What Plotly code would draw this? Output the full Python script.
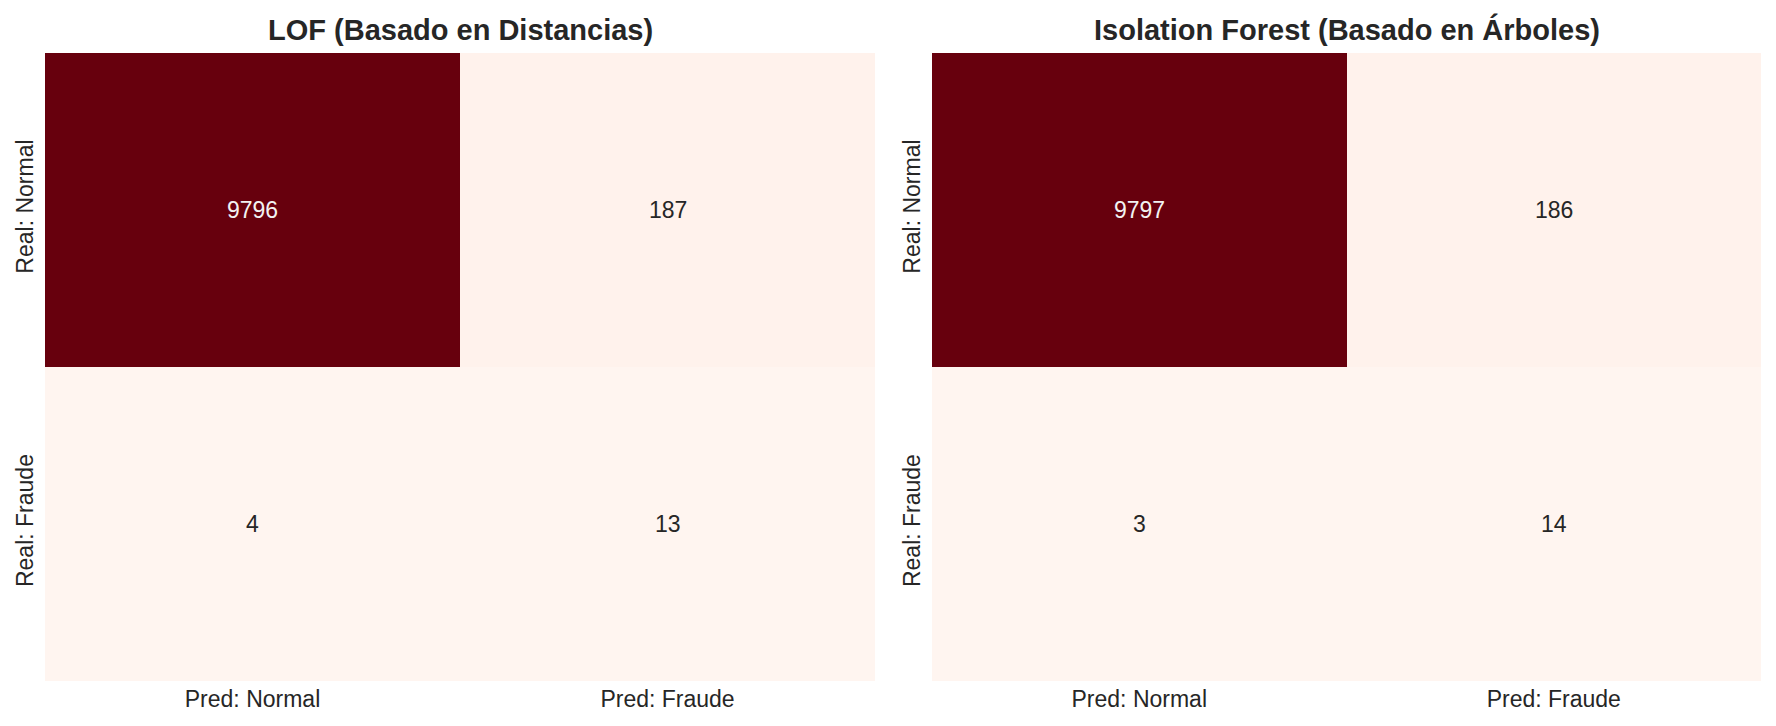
import plotly.graph_objects as go

x_labels = ["Pred: Normal", "Pred: Fraude"]
y_labels = ["Real: Normal", "Real: Fraude"]
titles = ["LOF (Basado en Distancias)", "Isolation Forest (Basado en Árboles)"]
lof_cm = [[9796, 187], [4, 13]]
iso_cm = [[9797, 186], [3, 14]]
matrices = [lof_cm, iso_cm]

W, H = 1776, 726
FONT = "Liberation Sans, Arial, sans-serif"
TXT = "#262626"

# pixel geometry
x_doms = [(45 / W, 875 / W), (932 / W, 1761 / W)]
y_dom = (1 - 681 / H, 1 - 53 / H)

fig = go.Figure()
annotations = []
for i, (cm, title) in enumerate(zip(matrices, titles)):
    xa = "x" if i == 0 else "x2"
    ya = "y" if i == 0 else "y2"
    vmax = max(max(r) for r in cm)
    vmin = min(min(r) for r in cm)
    fig.add_trace(go.Heatmap(
        z=cm, x=x_labels, y=y_labels, xaxis=xa, yaxis=ya,
        colorscale="Reds", zmin=vmin, zmax=vmax, showscale=False,
        xgap=0, ygap=0, hoverinfo="z",
    ))
    for r, yl in enumerate(y_labels):
        for c, xl in enumerate(x_labels):
            v = cm[r][c]
            frac = (v - vmin) / (vmax - vmin)
            annotations.append(dict(
                x=xl, y=yl, xref=xa, yref=ya, text=str(v), showarrow=False,
                font=dict(family=FONT, size=23, color="#f2f2f2" if frac > 0.5 else TXT),
            ))
    d = x_doms[i]
    annotations.append(dict(
        x=(d[0] + d[1]) / 2, y=1 - 30 / H, xref="paper", yref="paper",
        text="<b>%s</b>" % title, showarrow=False, xanchor="center", yanchor="middle",
        font=dict(family=FONT, size=29, color=TXT),
    ))

axis_common = dict(showgrid=False, zeroline=False, showline=False, ticks="",
                   tickfont=dict(family=FONT, size=23, color=TXT), automargin=False)
fig.update_layout(
    width=W, height=H, margin=dict(l=0, r=0, t=0, b=0),
    paper_bgcolor="white", plot_bgcolor="white",
    annotations=annotations,
    xaxis=dict(domain=x_doms[0], anchor="y", ticklabelstandoff=2, **axis_common),
    yaxis=dict(domain=y_dom, anchor="x", autorange="reversed", tickangle=-90,
               ticklabelstandoff=6, **axis_common),
    xaxis2=dict(domain=x_doms[1], anchor="y2", ticklabelstandoff=2, **axis_common),
    yaxis2=dict(domain=y_dom, anchor="x2", autorange="reversed", tickangle=-90,
                ticklabelstandoff=6, **axis_common),
)
fig.write_html("out.html")
